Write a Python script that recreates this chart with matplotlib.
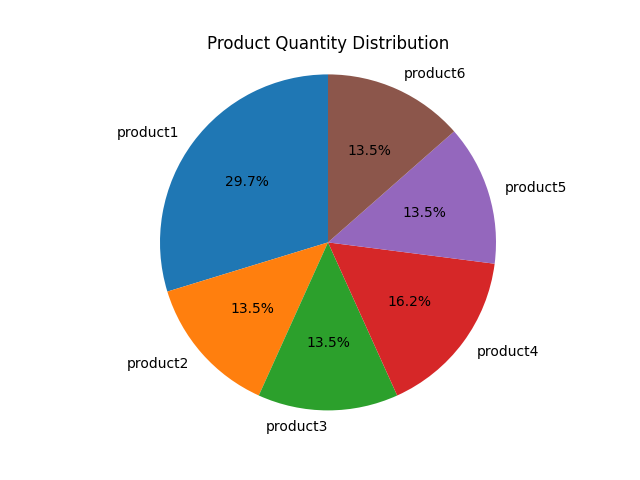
import matplotlib
matplotlib.use("Agg")
import matplotlib.pyplot as plt

products = ["product1", "product2", "product3", "product4", "product5", "product6"]
quantities = [11, 5, 5, 6, 5, 5]

fig, ax = plt.subplots(figsize=(6.4, 4.8), dpi=100)
wedges, texts, autotexts = ax.pie(quantities, labels=products, autopct="%1.1f%%", startangle=90)
# bottom label sits right at the centre line; put it on the left side like the original
texts[2].set_ha("right")
ax.axis("equal")
ax.set_title("Product Quantity Distribution")
fig.savefig("out.png")
